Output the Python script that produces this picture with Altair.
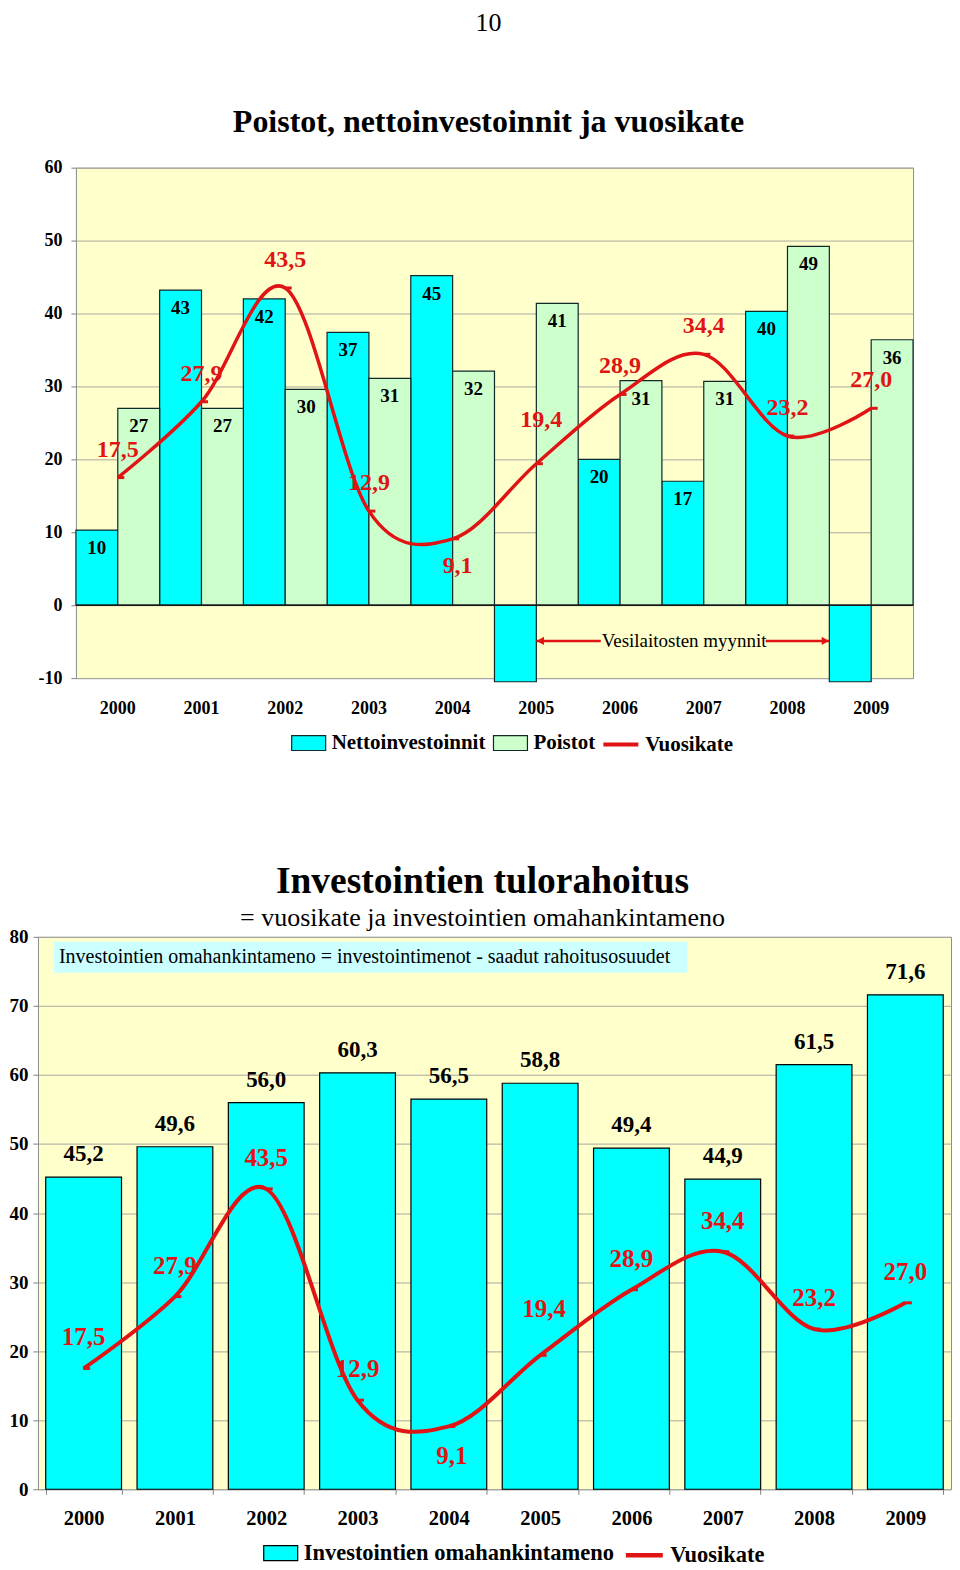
import altair as alt
import pandas as pd

# ---------------- data ----------------
YEARS = ["2000", "2001", "2002", "2003", "2004", "2005", "2006", "2007", "2008", "2009"]
NETTO = [10.3, 43.2, 42.0, 37.4, 45.2, -10.5, 20.0, 17.0, 40.3, -10.5]
POISTOT = [27.0, 27.0, 29.6, 31.1, 32.1, 41.4, 30.8, 30.7, 49.2, 36.4]
VUOSIKATE = [17.5, 27.9, 43.5, 12.9, 9.1, 19.4, 28.9, 34.4, 23.2, 27.0]
OMAHANKINTA = [45.2, 49.6, 56.0, 60.3, 56.5, 58.8, 49.4, 44.9, 61.5, 71.6]
Y1_TICKS = [-10, 0, 10, 20, 30, 40, 50, 60]
Y2_TICKS = [0, 10, 20, 30, 40, 50, 60, 70, 80]
SERIES1 = ["Nettoinvestoinnit", "Poistot"]
SERIES2 = ["Investointien omahankintameno"]
LINE_NAME = "Vuosikate"
TITLE1 = "Poistot, nettoinvestoinnit ja vuosikate"
PAGE_NO = "10"
TITLE2 = "Investointien tulorahoitus"
SUBTITLE2 = "= vuosikate ja investointien omahankintameno"
NOTE1 = "Vesilaitosten myynnit"
NOTE2 = "Investointien omahankintameno = investointimenot - saadut rahoitusosuudet"

# ---------------- style ----------------
FONT = "Liberation Serif"
RED = "#E01414"
CYAN = "#00FFFF"
GREEN = "#CCFFCC"
BG = "#FFFFCC"
EDGE = "#102828"
GRID = "#A8A8A0"
BOX = "#CCFFFF"
RECT_PATH = "M-1,-0.44L1,-0.44L1,0.44L-1,0.44Z"


def fi(v):
    return f"{v:.1f}".replace(".", ",")


df1 = pd.DataFrame({
    "year": YEARS * 2,
    "series": [SERIES1[0]] * len(YEARS) + [SERIES1[1]] * len(YEARS),
    "value": NETTO + POISTOT,
})
df1["label"] = [f"{v:.0f}" for v in df1["value"]]
dfl = pd.DataFrame({"year": YEARS, "value": VUOSIKATE,
                    "label": [fi(v) for v in VUOSIKATE], "name": LINE_NAME})
df2 = pd.DataFrame({"year": YEARS, "value": OMAHANKINTA,
                    "label": [fi(v) for v in OMAHANKINTA], "series": SERIES2[0]})
one = pd.DataFrame({"k": [0]})

# ================= chart 1 =================
sx1 = alt.Scale(domain=YEARS, paddingInner=0, paddingOuter=0)
sy1 = alt.Scale(domain=[-10, 60], nice=False, zero=False)
AX1 = alt.Axis(title=None, labelAngle=0, ticks=False, domain=False, labelFont=FONT,
               labelFontSize=18, labelFontWeight="bold", labelColor="black",
               labelPadding=21, grid=False)
AY1 = alt.Axis(title=None, values=Y1_TICKS, grid=True, gridColor=GRID, domain=False,
               tickSize=5, tickColor="#808080", labelPadding=9, labelFont=FONT,
               labelFontSize=18, labelFontWeight="bold", labelColor="black",
               labelFlush=False, labelOverlap=False,
               labelExpr="replace(datum.label, '\u2212', '-')")
X1 = alt.X("year:N", scale=sx1, axis=AX1)
Y1 = alt.Y("value:Q", scale=sy1, stack=None, axis=AY1)
XOFF1 = alt.XOffset("series:N", scale=alt.Scale(domain=SERIES1, paddingInner=0, paddingOuter=0))

bars1 = alt.Chart(df1).mark_bar(stroke=EDGE, strokeWidth=1.2).encode(
    x=X1, xOffset=XOFF1, y=Y1,
    fill=alt.Fill("series:N", scale=alt.Scale(domain=SERIES1, range=[CYAN, GREEN]),
                  legend=alt.Legend(title=None, orient="none", legendX=215, legendY=558,
                                    direction="horizontal", symbolType=RECT_PATH,
                                    symbolSize=1156, symbolStrokeColor=EDGE,
                                    symbolStrokeWidth=1.2, symbolOpacity=1,
                                    labelFont=FONT, labelFontSize=21, labelFontWeight="bold",
                                    labelColor="black", labelOffset=5, columnPadding=5,
                                    labelLimit=500, padding=0)),
)
zero1 = alt.Chart(one).mark_rule(color="#1a1a1a", strokeWidth=1.5).encode(
    y=alt.YDatum(0, scale=sy1, axis=AY1))
blabels1 = alt.Chart(df1).transform_filter("datum.value > 0").mark_text(
    font=FONT, fontSize=19, fontWeight="bold", color="black", baseline="middle", dy=18
).encode(x=X1, xOffset=XOFF1, y=Y1, text="label:N")

line1 = alt.Chart(dfl).mark_line(interpolate="cardinal", strokeWidth=3.5).encode(
    x=X1, y=Y1,
    stroke=alt.Stroke("name:N", scale=alt.Scale(domain=[LINE_NAME], range=[RED]),
                      legend=alt.Legend(title=None, orient="none", legendX=526, legendY=558,
                                        symbolType="stroke", symbolSize=1225,
                                        symbolStrokeWidth=4, labelFont=FONT,
                                        labelFontSize=21, labelFontWeight="bold",
                                        labelColor="black", labelOffset=5, labelLimit=500,
                                        padding=0)),
)
marks1 = alt.Chart(dfl).mark_point(shape="stroke", size=49, strokeWidth=3, color=RED,
                                   opacity=1, xOffset=3).encode(x=X1, y=Y1)


def vlabels(df, X, Y, size, dy_main, dy_low, dx_low, dy_mid, dx_mid):
    base = alt.Chart(df)
    kw = dict(font=FONT, fontSize=size, fontWeight="bold", color=RED, baseline="middle")
    a = base.transform_filter("datum.year != '2004' && datum.year != '2005'").mark_text(
        dy=dy_main, **kw).encode(x=X, y=Y, text="label:N")
    b = base.transform_filter("datum.year == '2004'").mark_text(
        dy=dy_low, dx=dx_low, **kw).encode(x=X, y=Y, text="label:N")
    c = base.transform_filter("datum.year == '2005'").mark_text(
        dy=dy_mid, dx=dx_mid, **kw).encode(x=X, y=Y, text="label:N")
    return [a, b, c]


vl1 = vlabels(dfl, X1, Y1, 24, -28, 27, 5, -44, 5)

# "Vesilaitosten myynnit" arrow
YN = alt.YDatum(-4.9, scale=sy1, axis=AY1)
seg_a = alt.Chart(one).mark_rule(color=RED, strokeWidth=2.5).encode(
    x=alt.XDatum("2005", bandPosition=0.5, scale=sx1, axis=AX1),
    x2=alt.X2Datum("2006", bandPosition=0.27), y=YN)
seg_b = alt.Chart(one).mark_rule(color=RED, strokeWidth=2.5).encode(
    x=alt.XDatum("2008", bandPosition=0.24, scale=sx1, axis=AX1),
    x2=alt.X2Datum("2009", bandPosition=0), y=YN)
head_a = alt.Chart(one).mark_point(shape="triangle-left", filled=True, size=70, color=RED,
                                   opacity=1, xOffset=4).encode(
    x=alt.XDatum("2005", bandPosition=0.5, scale=sx1, axis=AX1), y=YN)
head_b = alt.Chart(one).mark_point(shape="triangle-right", filled=True, size=70, color=RED,
                                   opacity=1, xOffset=-4).encode(
    x=alt.XDatum("2009", bandPosition=0, scale=sx1, axis=AX1), y=YN)
note1 = alt.Chart(one).mark_text(font=FONT, fontSize=19, color="black", baseline="middle",
                                 align="center").encode(
    x=alt.XDatum("2007", bandPosition=0.265, scale=sx1, axis=AX1), y=YN,
    text=alt.value(NOTE1))

chart1 = alt.layer(
    bars1, zero1, blabels1, line1, marks1, *vl1, seg_a, seg_b, head_a, head_b, note1
).properties(
    width=838, height=511,
    title=alt.Title(PAGE_NO, subtitle=TITLE1, font=FONT, fontSize=26, fontWeight="normal",
                    color="black", subtitleFont=FONT, subtitleFontSize=32,
                    subtitleFontWeight="bold", subtitleColor="black", subtitlePadding=71,
                    offset=21, anchor="middle", frame="group", dx=-6),
)

# ================= chart 2 =================
sx2 = alt.Scale(domain=YEARS, paddingInner=0.17, paddingOuter=0.085)
sy2 = alt.Scale(domain=[0, 80], nice=False, zero=False)
AX2 = alt.Axis(title=None, labelAngle=0, tickBand="extent", tickSize=5, tickColor="#808080",
               domain=False, labelPadding=14, labelFont=FONT, labelFontSize=20.5,
               labelFontWeight="bold", labelColor="black", grid=False)
AY2 = alt.Axis(title=None, values=Y2_TICKS, grid=True, gridColor=GRID, domain=False,
               tickSize=5, tickColor="#808080", labelPadding=5, labelFont=FONT,
               labelFontSize=19, labelFontWeight="bold", labelColor="black",
               labelFlush=False, labelOverlap=False)
X2 = alt.X("year:N", scale=sx2, axis=AX2)
Y2 = alt.Y("value:Q", scale=sy2, axis=AY2)

box2 = alt.Chart(one).mark_rect(fill=BOX).encode(
    x=alt.value(16), x2=alt.value(650), y=alt.value(5), y2=alt.value(36))
note2 = alt.Chart(one).mark_text(font=FONT, fontSize=20, color="black", align="left",
                                 baseline="middle").encode(
    x=alt.value(21), y=alt.value(20.5), text=alt.value(NOTE2))

bars2 = alt.Chart(df2).mark_bar(stroke="black", strokeWidth=1.2).encode(
    x=X2, y=Y2,
    fill=alt.Fill("series:N", scale=alt.Scale(domain=SERIES2, range=[CYAN]),
                  legend=alt.Legend(title=None, orient="none", legendX=225, legendY=599,
                                    direction="horizontal", symbolType=RECT_PATH,
                                    symbolSize=1156, symbolStrokeColor="black",
                                    symbolStrokeWidth=1.2, symbolOpacity=1,
                                    labelFont=FONT, labelFontSize=22.5, labelFontWeight="bold",
                                    labelColor="black", labelOffset=5, labelLimit=500,
                                    padding=0)),
)
blabels2 = alt.Chart(df2).mark_text(font=FONT, fontSize=23, fontWeight="bold", color="black",
                                    baseline="middle", dy=-23).encode(
    x=X2, y=Y2, text="label:N")
line2 = alt.Chart(dfl).mark_line(interpolate="cardinal", strokeWidth=4).encode(
    x=X2, y=Y2,
    stroke=alt.Stroke("name:N", scale=alt.Scale(domain=[LINE_NAME], range=[RED]),
                      legend=alt.Legend(title=None, orient="none", legendX=586, legendY=598,
                                        symbolType="stroke", symbolSize=1369,
                                        symbolStrokeWidth=4.5, labelFont=FONT,
                                        labelFontSize=22.5, labelFontWeight="bold",
                                        labelColor="black", labelOffset=5, labelLimit=500,
                                        padding=0)),
)
marks2 = alt.Chart(dfl).mark_point(shape="stroke", size=49, strokeWidth=3, color=RED,
                                   opacity=1, xOffset=3).encode(x=X2, y=Y2)
vl2 = vlabels(dfl, X2, Y2, 25, -31, 30, 3, -46, 4)

chart2 = alt.layer(
    bars2, box2, note2, blabels2, line2, marks2, *vl2
).properties(
    width=914, height=553,
    title=alt.Title(TITLE2, subtitle=SUBTITLE2, font=FONT, fontSize=37.5, fontWeight="bold",
                    color="black", subtitleFont=FONT, subtitleFontSize=26,
                    subtitleFontWeight="normal", subtitleColor="black", subtitlePadding=4,
                    offset=-3, anchor="middle", frame="group", dx=-12),
)

chart = alt.vconcat(chart1, chart2, spacing=259, center=True, bounds="flush").resolve_scale(
    fill="independent", stroke="independent"
).resolve_legend(
    fill="independent", stroke="independent"
).properties(padding=0).configure(font=FONT).configure_view(
    fill=BG, stroke="#8c8c8c", strokeWidth=1
)

chart.save("out.html", embed_options={"renderer": "svg", "actions": False})
